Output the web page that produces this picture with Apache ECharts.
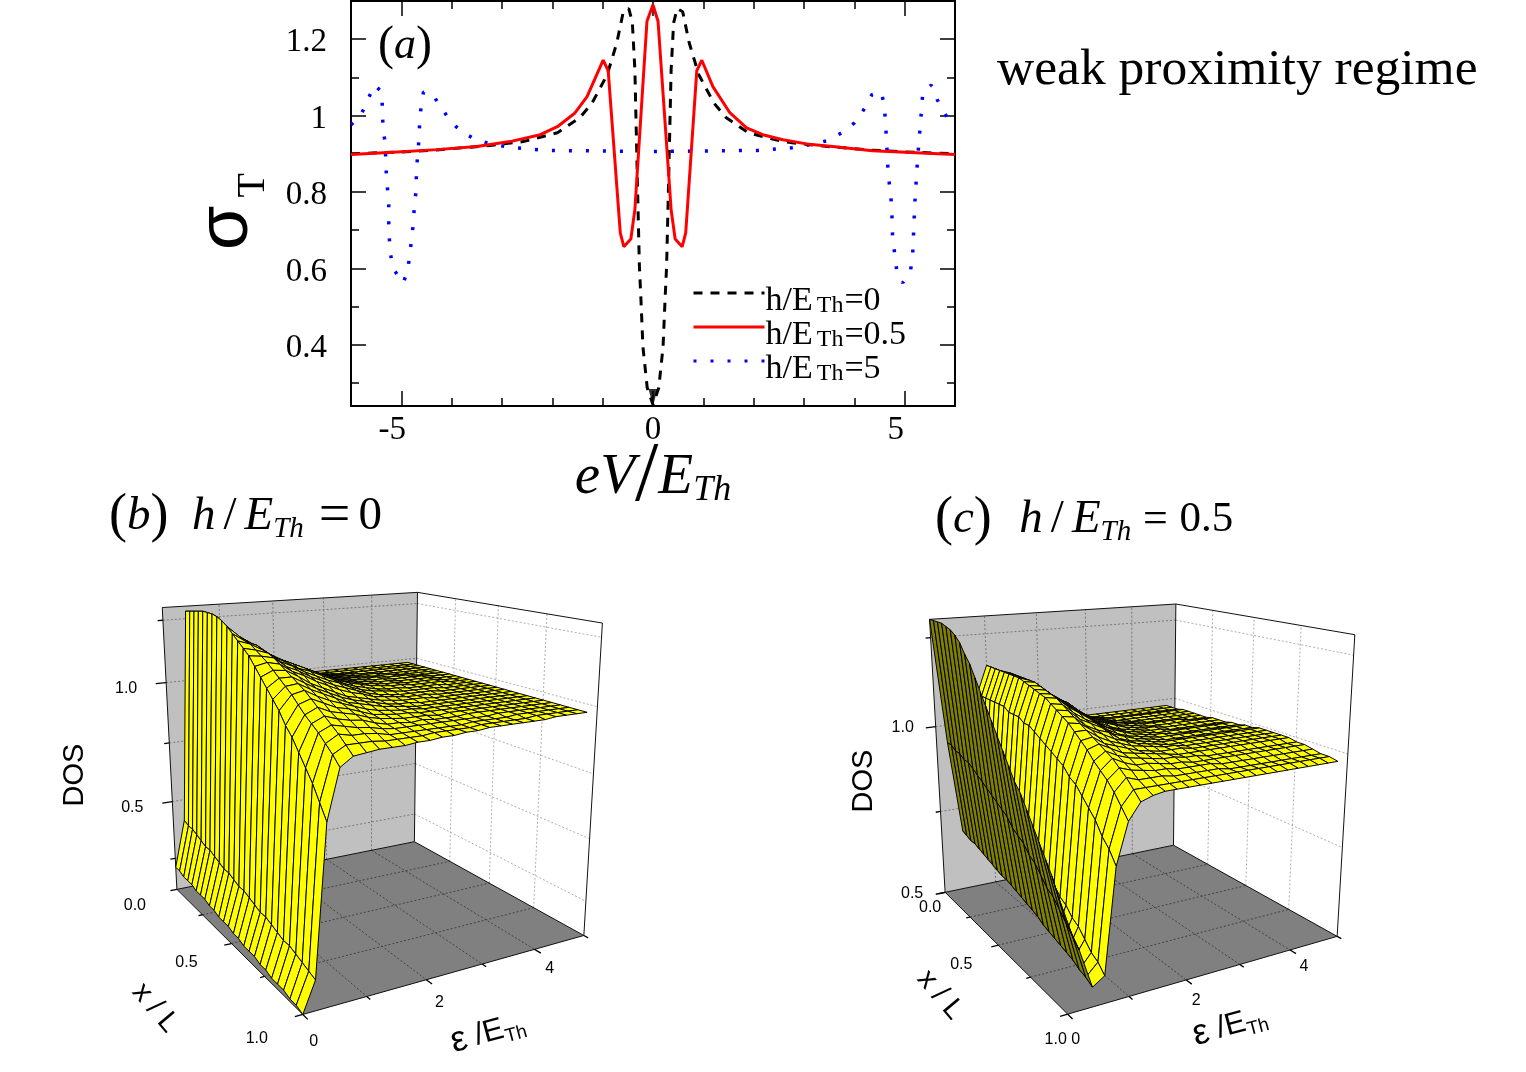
<!DOCTYPE html>
<html><head><meta charset="utf-8">
<style>html,body{margin:0;padding:0;background:#fff}#c{width:1526px;height:1072px}</style>
<script src="https://cdn.jsdelivr.net/npm/echarts@6/dist/echarts.min.js"></script>
</head><body><div id="c"></div>
<script>
// ---------- panel (a) data ----------
const blackCurve=[[-6,.9],[-5,.905],[-4.3,.91],[-3.23,.922],[-2.58,.932],[-1.9,.955],[-1.45,.995],[-1.21,1.033],[-.91,1.107],[-.72,1.19],[-.59,1.272],[-.48,1.28],[-.41,1.243],[-.36,1.12],[-.3,.77],[-.27,.605],[-.24,.52],[-.2,.395],[-.115,.288],[0,.243],[.115,.288],[.2,.395],[.24,.52],[.27,.605],[.3,.77],[.36,1.12],[.41,1.243],[.48,1.28],[.59,1.272],[.72,1.19],[.91,1.107],[1.21,1.033],[1.45,.995],[1.9,.955],[2.58,.932],[3.23,.922],[4.3,.91],[5,.905],[6,.9]];
const redCurve=[[-6,.898],[-5.08,.905],[-4.29,.911],[-3.5,.919],[-2.84,.932],[-2.24,.95],[-1.9,.971],[-1.55,1.007],[-1.31,1.05],[-.99,1.145],[-.89,1.118],[-.65,.693],[-.58,.657],[-.44,.677],[-.36,.754],[-.12,1.247],[0,1.29],[.1,1.247],[.36,.754],[.44,.677],[.58,.657],[.65,.693],[.87,1.118],[.97,1.145],[1.19,1.076],[1.53,1.007],[1.86,.968],[2.18,.95],[2.58,.937],[3.05,.926],[3.57,.919],[4.36,.908],[5.23,.903],[6,.898]];
const blueCurve=[[-6,.976],[-5.8,1.002],[-5.67,1.04],[-5.54,1.08],[-5.38,1.062],[-5.38,1.02],[-5.36,.96],[-5.33,.937],[-5.31,.89],[-5.3,.853],[-5.27,.8],[-5.25,.767],[-5.25,.72],[-5.24,.683],[-5.22,.64],[-5.15,.597],[-4.96,.562],[-4.87,.597],[-4.83,.64],[-4.79,.683],[-4.76,.72],[-4.74,.767],[-4.71,.8],[-4.7,.853],[-4.68,.89],[-4.65,.937],[-4.64,.97],[-4.61,1.02],[-4.56,1.062],[-4.38,1.055],[-4.19,1.018],[-4,.981],[-3.77,.955],[-3.47,.934],[-3.13,.924],[-2.78,.916],[-2.1,.909],[0,.906],[2.08,.909],[2.76,.916],[3.11,.924],[3.45,.934],[3.75,.955],[4,.981],[4.2,1.018],[4.35,1.055],[4.54,1.062],[4.6,1.02],[4.64,.937],[4.67,.853],[4.74,.767],[4.76,.683],[4.8,.64],[4.84,.597],[4.96,.562],[5.12,.597],[5.16,.64],[5.2,.767],[5.26,.893],[5.34,1.023],[5.36,1.062],[5.53,1.08],[5.65,1.041],[5.81,1.002],[5.95,.976],[6,.97]];
const xMajor=[-5,0,5], xMinor=[-4,-3,-2,-1,1,2,3,4];
const yMajor=[.4,.6,.8,1,1.2], yMinor=[.3,.5,.7,.9,1.1];
const seriesNames=['h/E_Th=0','h/E_Th=0.5','h/E_Th=5'];
// ---------- DOS tables: one row per energy 0,0.2,...,4.8; one value per x/L 0,0.04,...,1 ----------
const dosB=[
[.21,.21,.20,.20,.20,.19,.19,.19,.18,.18,.17,.17,.17,.16,.16,.15,.15,.15,.14,.14,.13,.13,.13,.12,.12,.11],
[.41,.40,.40,.39,.38,.37,.37,.36,.35,.34,.34,.33,.32,.32,.31,.30,.29,.29,.28,.27,.26,.26,.25,.24,.23,.22],
[1.28,1.285,1.29,1.295,1.30,1.30,1.30,1.295,1.285,1.27,1.25,1.23,1.21,1.19,1.16,1.13,1.10,1.07,1.04,1.00,.97,.93,.89,.85,.80,.75],
[1.20,1.205,1.21,1.215,1.22,1.225,1.23,1.23,1.23,1.23,1.22,1.215,1.20,1.185,1.17,1.15,1.13,1.11,1.09,1.065,1.04,1.02,1.00,.975,.95,.92],
[1.18,1.185,1.19,1.195,1.20,1.20,1.205,1.205,1.205,1.20,1.20,1.19,1.185,1.175,1.16,1.145,1.13,1.115,1.10,1.08,1.06,1.04,1.02,1.00,.975,.95],
[1.15,1.155,1.16,1.165,1.17,1.17,1.17,1.17,1.17,1.17,1.165,1.16,1.15,1.14,1.13,1.12,1.105,1.09,1.075,1.06,1.04,1.025,1.01,.99,.975,.955],
[1.125,1.13,1.13,1.135,1.14,1.14,1.14,1.14,1.14,1.14,1.14,1.135,1.13,1.12,1.11,1.09,1.08,1.07,1.055,1.04,1.03,1.015,1.00,.99,.975,.96],
[1.10,1.105,1.11,1.115,1.12,1.12,1.12,1.12,1.12,1.12,1.12,1.11,1.105,1.095,1.085,1.07,1.06,1.05,1.04,1.03,1.02,1.01,.995,.985,.97,.96],
[1.08,1.085,1.09,1.09,1.095,1.10,1.10,1.10,1.10,1.10,1.10,1.095,1.085,1.075,1.065,1.05,1.04,1.03,1.025,1.015,1.005,.995,.985,.975,.97,.96],
[1.05,1.055,1.06,1.07,1.075,1.08,1.08,1.08,1.08,1.08,1.08,1.075,1.065,1.055,1.045,1.03,1.025,1.02,1.01,1.00,.995,.985,.98,.975,.97,.965],
[1.02,1.03,1.04,1.045,1.05,1.055,1.06,1.06,1.06,1.06,1.06,1.055,1.05,1.04,1.03,1.02,1.015,1.01,1.00,.995,.99,.985,.98,.975,.97,.965],
[1.00,1.01,1.02,1.025,1.03,1.035,1.04,1.04,1.04,1.04,1.04,1.035,1.03,1.025,1.02,1.01,1.005,1.00,.995,.99,.985,.98,.98,.975,.975,.97],
[.99,.995,1.00,1.01,1.015,1.02,1.025,1.025,1.025,1.025,1.025,1.02,1.015,1.01,1.005,1.00,.995,.995,.99,.99,.985,.985,.98,.975,.975,.97],
[.985,.99,.995,1.00,1.005,1.01,1.015,1.015,1.015,1.015,1.015,1.01,1.005,1.00,1.00,.995,.99,.99,.99,.985,.985,.98,.98,.975,.975,.975],
[.985,.985,.99,.995,1.00,1.00,1.005,1.005,1.005,1.005,1.005,1.00,1.00,.995,.995,.99,.99,.985,.985,.985,.98,.98,.98,.975,.975,.975],
[.985,.985,.985,.99,.995,.995,1.00,1.00,1.00,1.00,1.00,.995,.995,.99,.99,.99,.985,.985,.985,.985,.985,.98,.98,.98,.98,.98],
[.985,.985,.985,.99,.99,.995,.995,.995,.995,.995,.995,.995,.99,.99,.99,.99,.985,.985,.985,.985,.985,.985,.98,.98,.98,.98],
[.985,.985,.985,.985,.99,.99,.995,.995,.995,.995,.995,.99,.99,.99,.99,.985,.985,.985,.985,.985,.985,.985,.98,.98,.98,.98],
[.985,.985,.985,.985,.99,.99,.99,.99,.99,.99,.99,.99,.99,.99,.985,.985,.985,.985,.985,.985,.985,.985,.985,.98,.98,.98],
[.985,.985,.985,.985,.985,.99,.99,.99,.99,.99,.99,.99,.99,.985,.985,.985,.985,.985,.985,.985,.985,.985,.985,.985,.98,.98],
[.985,.985,.985,.985,.985,.985,.99,.99,.99,.99,.99,.99,.985,.985,.985,.985,.985,.985,.985,.985,.985,.985,.985,.985,.985,.98],
[.985,.985,.985,.985,.985,.985,.985,.99,.99,.99,.99,.985,.985,.985,.985,.985,.985,.985,.985,.985,.985,.985,.985,.985,.985,.985],
[.985,.985,.985,.985,.985,.985,.985,.985,.985,.985,.985,.985,.985,.985,.985,.985,.985,.985,.985,.985,.985,.985,.985,.985,.985,.985],
[.985,.985,.985,.985,.985,.985,.985,.985,.985,.985,.985,.985,.985,.985,.985,.985,.985,.985,.985,.985,.985,.985,.985,.985,.985,.985],
[.985,.985,.985,.985,.985,.985,.985,.985,.985,.985,.985,.985,.985,.985,.985,.985,.985,.985,.985,.985,.985,.985,.985,.985,.985,.985]];
const dosC=[
[1.30,1.30,1.30,1.30,1.295,1.29,1.28,1.265,1.24,1.22,1.19,1.16,1.13,1.10,1.07,1.04,1.01,.98,.96,.93,.90,.87,.84,.81,.77,.73],
[.95,.95,.94,.94,.93,.93,.92,.91,.90,.89,.88,.87,.86,.85,.83,.82,.81,.79,.78,.76,.74,.73,.71,.69,.67,.65],
[.68,.675,.67,.67,.665,.66,.655,.65,.645,.64,.64,.635,.63,.625,.62,.615,.61,.60,.595,.59,.585,.58,.575,.565,.56,.55],
[.80,.80,.80,.79,.79,.79,.78,.78,.77,.77,.76,.75,.75,.74,.73,.72,.71,.70,.68,.67,.65,.64,.62,.60,.59,.57],
[1.08,1.08,1.08,1.08,1.08,1.08,1.08,1.07,1.07,1.07,1.06,1.06,1.05,1.04,1.03,1.02,1.01,1.00,.98,.97,.95,.93,.91,.88,.86,.83],
[1.16,1.16,1.16,1.16,1.16,1.16,1.16,1.16,1.155,1.15,1.145,1.14,1.135,1.125,1.115,1.105,1.095,1.08,1.065,1.05,1.03,1.015,1.00,.98,.955,.93],
[1.145,1.145,1.145,1.15,1.15,1.15,1.15,1.15,1.15,1.145,1.14,1.135,1.13,1.12,1.11,1.10,1.09,1.08,1.07,1.06,1.05,1.04,1.025,1.01,.99,.97],
[1.12,1.12,1.125,1.125,1.125,1.125,1.125,1.125,1.125,1.12,1.115,1.11,1.105,1.095,1.085,1.075,1.07,1.06,1.05,1.045,1.035,1.025,1.015,1.00,.99,.98],
[1.09,1.095,1.10,1.10,1.105,1.105,1.105,1.105,1.10,1.10,1.095,1.09,1.085,1.075,1.07,1.06,1.055,1.045,1.04,1.03,1.025,1.015,1.01,1.00,.99,.985],
[1.06,1.065,1.07,1.075,1.08,1.085,1.085,1.085,1.085,1.08,1.075,1.07,1.065,1.06,1.055,1.05,1.04,1.035,1.03,1.025,1.02,1.015,1.005,1.00,.99,.985],
[1.03,1.04,1.045,1.05,1.055,1.06,1.06,1.06,1.06,1.055,1.055,1.05,1.045,1.04,1.035,1.03,1.03,1.025,1.02,1.02,1.015,1.01,1.005,.995,.99,.985],
[1.00,1.01,1.02,1.03,1.035,1.04,1.04,1.04,1.04,1.035,1.035,1.03,1.03,1.025,1.025,1.02,1.02,1.02,1.015,1.015,1.01,1.005,1.00,.995,.99,.985],
[.99,1.00,1.005,1.015,1.02,1.025,1.025,1.025,1.025,1.025,1.02,1.02,1.02,1.015,1.015,1.015,1.015,1.015,1.01,1.01,1.01,1.005,1.00,.995,.99,.985],
[.985,.99,.995,1.00,1.005,1.01,1.015,1.015,1.015,1.015,1.01,1.01,1.01,1.01,1.01,1.01,1.01,1.01,1.01,1.005,1.005,1.00,1.00,.995,.99,.985],
[.98,.985,.99,.995,1.00,1.00,1.005,1.005,1.005,1.005,1.005,1.005,1.005,1.005,1.005,1.005,1.005,1.01,1.01,1.005,1.005,1.00,1.00,.995,.99,.985],
[.98,.98,.985,.99,.99,.995,.995,1.00,1.00,1.00,1.00,1.00,1.00,1.00,1.00,1.005,1.005,1.005,1.005,1.005,1.00,1.00,.995,.99,.99,.985],
[.98,.98,.98,.985,.985,.99,.99,.995,.995,.995,.995,.995,1.00,1.00,1.00,1.005,1.005,1.005,1.005,1.005,1.00,1.00,.995,.99,.99,.985],
[.98,.98,.98,.985,.985,.985,.99,.99,.99,.995,.995,.995,.995,1.00,1.00,1.005,1.005,1.005,1.005,1.005,1.00,1.00,.995,.99,.99,.985],
[.98,.98,.98,.985,.985,.985,.985,.99,.99,.99,.99,.995,.995,1.00,1.00,1.005,1.005,1.005,1.005,1.005,1.00,1.00,.995,.99,.99,.985],
[.98,.98,.98,.985,.985,.985,.985,.99,.99,.99,.99,.995,.995,1.00,1.00,1.005,1.005,1.005,1.005,1.005,1.00,1.00,.995,.99,.99,.985],
[.98,.98,.98,.985,.985,.985,.985,.99,.99,.99,.99,.995,.995,1.00,1.00,1.005,1.005,1.005,1.005,1.005,1.00,1.00,.995,.99,.99,.985],
[.98,.98,.98,.985,.985,.985,.985,.99,.99,.99,.99,.995,.995,1.00,1.00,1.005,1.005,1.005,1.005,1.005,1.00,1.00,.995,.99,.99,.985],
[.98,.98,.98,.985,.985,.985,.985,.985,.99,.99,.99,.995,.995,1.00,1.00,1.005,1.005,1.005,1.005,1.005,1.00,1.00,.995,.99,.99,.985],
[.98,.98,.98,.985,.985,.985,.985,.985,.99,.99,.99,.995,.995,1.00,1.00,1.005,1.005,1.005,1.005,1.005,1.00,1.00,.995,.99,.99,.985],
[.98,.98,.98,.985,.985,.985,.985,.985,.99,.99,.99,.995,.995,1.00,1.00,1.005,1.005,1.005,1.005,1.005,1.00,1.00,.995,.99,.99,.985]];
const energyStep=0.2, xStep=0.04;
const xTicks3d=[0,.25,.5,.75,1], xLabels3d=[0,.5,1], eTicks3d=[0,1,2,3,4,5], eLabels3d=[0,2,4], eGrid3d=[1,2,3,4], xGrid3d=[.25,.5,.75];
const panels=[
 {dos:dosB,zMin:.11,zMax:1.3,zTicks:[.25,.5,.75,1,1.25],zLabels:[.5,1],
  cal:[[0,0,0,177,889],[1,0,0,302,1014],[1,5,0,582,935],[0,5,0,414,842],[0,0,1,162,608],[0,5,1,418,592],[1,5,1,602,623],[1,2,0,427,980],[1,4,0,537,950]],
  zOff:[-40,6],xOff:[[-42,16],[-45,19],[-46,24]],eOff:[[11,27],[13,23],[15,19]]},
 {dos:dosC,zMin:.5,zMax:1.3,zTicks:[.5,.75,1,1.25],zLabels:[.5,1],
  cal:[[0,0,0,945,892],[1,0,0,1067,1012],[1,5,0,1335,935],[0,5,0,1173,845],[0,0,1,929,620],[0,5,1,1177,604],[1,5,1,1354,634],[1,2,0,1188,982],[1,4,0,1292,952]],
  zOff:[-33,1],xOff:[[-15,15],[-37,19],[-12,25]],eOff:[[8,25],[10,21],[14,17]]}
];
// projective calibration of each 3D box, fitted by least squares
function solve(A,b){const n=b.length;A=A.map((r,i)=>r.concat(b[i]));
 for(let i=0;i<n;i++){let m=i;for(let k=i+1;k<n;k++)if(Math.abs(A[k][i])>Math.abs(A[m][i]))m=k;[A[i],A[m]]=[A[m],A[i]];
  for(let k=0;k<n;k++)if(k!==i){const f=A[k][i]/A[i][i];for(let j=i;j<=n;j++)A[k][j]-=f*A[i][j];}}
 return A.map((r,i)=>r[n]/r[i]);}
panels.forEach(p=>{const R=[],S=[];
 p.cal.forEach(c=>{const u=c[0],v=c[1]/5,w=c[2],X=c[3],Y=c[4];
  R.push([u,v,w,1,0,0,0,0,-X*u,-X*v,-X*w]);S.push(X);
  R.push([0,0,0,0,u,v,w,1,-Y*u,-Y*v,-Y*w]);S.push(Y);});
 const N=Array.from({length:11},(_,i)=>Array.from({length:11},(_,j)=>R.reduce((s,r)=>s+r[i]*r[j],0)));
 const B=Array.from({length:11},(_,i)=>R.reduce((s,r,k)=>s+r[i]*S[k],0));
 const h=solve(N,B);
 p.project=(x,e,z)=>{const u=x,v=e/5,w=(z-p.zMin)/(p.zMax-p.zMin),d=h[8]*u+h[9]*v+h[10]*w+1;
  return [(h[0]*u+h[1]*v+h[2]*w+h[3])/d,(h[4]*u+h[5]*v+h[6]*w+h[7])/d];};
});
// build element lists
const walls=[],gridLines=[],edges=[],ticks=[],labels=[],cells=[];
panels.forEach((p,k)=>{
 const f=p.zMin,t=p.zMax;
 walls.push([k,0],[k,1],[k,2]);
 eGrid3d.forEach(e=>{gridLines.push([k,0,e,f,0,e,t,'#666']);gridLines.push([k,0,e,f,1,e,f,'#333']);});
 xGrid3d.forEach(x=>{gridLines.push([k,x,5,f,x,5,t,'#999']);gridLines.push([k,x,0,f,x,5,f,'#333']);});
 p.zTicks.forEach(z=>{if(z>f){gridLines.push([k,0,0,z,0,5,z,'#666']);gridLines.push([k,0,5,z,1,5,z,'#999']);}});
 [[0,0,t,0,5,t],[0,5,t,1,5,t],[1,5,t,1,5,f],[0,5,t,0,5,f],[0,0,t,0,0,f],[0,0,f,1,0,f],[1,0,f,1,5,f],[1,5,f,0,5,f],[0,5,f,0,0,f]].forEach(s=>edges.push([k].concat(s)));
 eTicks3d.forEach(e=>{const L=e%2===0?.03:.02;ticks.push([k,1,e,f,1+L,e,f]);});
 xTicks3d.forEach(x=>{const L=x*2===Math.round(x*2)?-.12:-.07;ticks.push([k,x,0,f,x,L,f]);});
 p.zTicks.forEach(z=>{const L=p.zLabels.includes(z)?-.18:-.09;ticks.push([k,0,0,z,0,L,z]);});
 p.zLabels.forEach(z=>labels.push([k,0,0,z,z.toFixed(1),p.zOff[0],p.zOff[1]]));
 xLabels3d.forEach((x,i)=>labels.push([k,x,0,f,x.toFixed(1),p.xOff[i][0],p.xOff[i][1]]));
 eLabels3d.forEach((e,i)=>labels.push([k,1,e,f,String(e),p.eOff[i][0],p.eOff[i][1]]));
 for(let ie=p.dos.length-2;ie>=0;ie--)for(let ix=0;ix<p.dos[0].length-1;ix++)cells.push([k,ie,ix]);
});
const sans='"Liberation Sans"',serif='"Liberation Serif"';
const segRender=(w,dash,getColor)=>(params,api)=>{const p=panels[api.value(0)];
 const a=api.coord(p.project(api.value(1),api.value(2),api.value(3))),b=api.coord(p.project(api.value(4),api.value(5),api.value(6)));
 return {type:'line',shape:{x1:a[0],y1:a[1],x2:b[0],y2:b[1]},style:{stroke:getColor(params.dataIndex),lineWidth:w,lineDash:dash,fill:null}};};
const cust=(name,data,renderItem)=>({type:'custom',name,coordinateSystem:'cartesian2d',xAxisIndex:4,yAxisIndex:4,data,renderItem,silent:true,clip:false,animation:false,encode:{x:[],y:[]}});
const line0={onZero:false,lineStyle:{color:'#000',width:2}};
const noLine={show:false,onZero:false};
const tickM=(vals)=>({inside:true,length:15,customValues:vals,lineStyle:{color:'#000',width:1.5}});
const tickS=(vals)=>({inside:true,length:8,customValues:vals,lineStyle:{color:'#000',width:1.5}});
const ser=(o)=>Object.assign({fontFamily:serif,color:'#000'},o);
const hdr=(o)=>Object.assign({fontFamily:serif,fill:'#000',color:'#000',lineHeight:54},o);
const hdrRich={b:hdr({fontStyle:'italic',fontSize:47}),p:hdr({fontSize:54}),n:hdr({fontSize:47}),m:hdr({fontSize:32}),q:hdr({fontSize:16}),x:hdr({fontSize:60}),e:hdr({fontSize:56}),e2:hdr({fontSize:44}),v:hdr({fontSize:43}),s:hdr({fontStyle:'italic',fontSize:29,verticalAlign:'bottom',lineHeight:36})};
const option={animation:false,backgroundColor:'#fff',
 grid:[{left:351,top:1,width:604,height:405},{left:0,top:0,width:1526,height:1072}],
 legend:{show:true,left:692,top:268,padding:0,orient:'vertical',itemWidth:71,itemHeight:20,itemGap:-16,data:seriesNames,
  itemStyle:{color:'transparent',opacity:0,borderWidth:0},lineStyle:{width:3},
  textStyle:{fontFamily:serif,fontSize:34,color:'#000',lineHeight:34,padding:[16,0,0,-4]},
  formatter:n=>{const m=n.split('_');const r=m[1].split('=');return m[0]+'{s|'+r[0]+'}{n|='+r[1]+'}';},
 },
 xAxis:[
  {gridIndex:0,type:'value',min:-6,max:6,position:'bottom',splitLine:{show:false},axisLine:line0,axisTick:tickM(xMajor),
   axisLabel:{customValues:xMajor,margin:8,fontFamily:serif,fontSize:33,color:'#000',formatter:v=>v===0?'{c|0}':'{l|'+v+'}',rich:{c:ser({fontSize:33}),l:ser({fontSize:33,padding:[0,18,0,0]})}},
   name:'{i|eV}{big|/}{i|E}{s|Th}',nameLocation:'middle',nameMoveOverlap:false,nameGap:41,nameTextStyle:{rich:{i:ser({fontStyle:'italic',fontSize:57,lineHeight:62}),big:ser({fontSize:84,lineHeight:62}),s:ser({fontStyle:'italic',fontSize:36,verticalAlign:'bottom',lineHeight:40})}}},
  {gridIndex:0,type:'value',min:-6,max:6,position:'bottom',splitLine:{show:false},axisLine:noLine,axisLabel:{show:false},axisTick:tickS(xMinor)},
  {gridIndex:0,type:'value',min:-6,max:6,position:'top',splitLine:{show:false},axisLine:line0,axisLabel:{show:false},axisTick:tickM(xMajor)},
  {gridIndex:0,type:'value',min:-6,max:6,position:'top',splitLine:{show:false},axisLine:noLine,axisLabel:{show:false},axisTick:tickS(xMinor)},
  {gridIndex:1,type:'value',min:0,max:1526,show:false}
 ],
 yAxis:[
  {gridIndex:0,type:'value',min:.24,max:1.3,position:'left',splitLine:{show:false},axisLine:line0,axisTick:tickM(yMajor),
   axisLabel:{customValues:yMajor,margin:24,formatter:v=>'{a|'+v+'}',rich:{a:ser({fontSize:33,padding:[7,0,0,0]})}},
   name:'{g|σ}{t|T}',nameLocation:'middle',nameRotate:90,nameGap:78,nameTextStyle:{rich:{g:{fontFamily:sans,fontSize:72,color:'#000',lineHeight:92},t:ser({fontSize:40,padding:[0,16,0,8],verticalAlign:'bottom',lineHeight:50})}}},
  {gridIndex:0,type:'value',min:.24,max:1.3,position:'left',splitLine:{show:false},axisLine:noLine,axisLabel:{show:false},axisTick:tickS(yMinor)},
  {gridIndex:0,type:'value',min:.24,max:1.3,position:'right',splitLine:{show:false},axisLine:line0,axisLabel:{show:false},axisTick:tickM(yMajor)},
  {gridIndex:0,type:'value',min:.24,max:1.3,position:'right',splitLine:{show:false},axisLine:noLine,axisLabel:{show:false},axisTick:tickS(yMinor)},
  {gridIndex:1,type:'value',min:0,max:1072,inverse:true,show:false}
 ],
 series:[
  {type:'line',name:seriesNames[2],data:blueCurve,symbol:'none',silent:true,lineStyle:{color:'#0000ff',width:3.5,type:[3,14]},itemStyle:{color:'#0000ff'},z:2},
  {type:'line',name:seriesNames[0],data:blackCurve,symbol:'none',silent:true,lineStyle:{color:'#000',width:3,type:[9,8]},itemStyle:{color:'#000'},z:3},
  {type:'scatter',data:[[0,.262]],symbol:'triangle',symbolRotate:180,symbolSize:[9,17],itemStyle:{color:'#000'},silent:true,z:3},
  {type:'line',name:seriesNames[1],data:redCurve,symbol:'none',silent:true,lineStyle:{color:'#ff0000',width:3},itemStyle:{color:'#ff0000'},z:4},
  cust('walls',walls,(params,api)=>{const k=api.value(0),w=api.value(1),p=panels[k],f=p.zMin,t=p.zMax;
    const q=w===0?[[0,0,f],[0,0,t],[0,5,t],[0,5,f]]:w===1?[[0,5,f],[0,5,t],[1,5,t],[1,5,f]]:[[0,0,f],[1,0,f],[1,5,f],[0,5,f]];
    return {type:'polygon',shape:{points:q.map(c=>api.coord(p.project(c[0],c[1],c[2])))},style:{fill:['#c0c0c0','#ffffff','#808080'][w]}};}),
  cust('grid',gridLines,segRender(.8,[2,2],i=>gridLines[i][7])),
  cust('edges',edges,segRender(1,null,()=>'#111')),
  cust('ticks',ticks,segRender(1.3,null,()=>'#000')),
  cust('surface',cells,(params,api)=>{const k=api.value(0),ie=api.value(1),ix=api.value(2),p=panels[k],D=p.dos;
    const P=(a,b)=>api.coord(p.project(b*xStep,a*energyStep,Math.max(p.zMin,D[a][b])));
    const q=[P(ie,ix),P(ie,ix+1),P(ie+1,ix+1),P(ie+1,ix)];
    let A=0;for(let i=0;i<4;i++){const a=q[i],b=q[(i+1)%4];A+=a[0]*b[1]-b[0]*a[1];}
    return {type:'polygon',shape:{points:q},style:{fill:A<0?'#ffff00':'#808000',stroke:'#000',lineWidth:1}};}),
  cust('labels',labels,(params,api)=>{const L=labels[params.dataIndex],p=panels[L[0]],c=api.coord(p.project(L[1],L[2],L[3]));
    return {type:'text',style:{x:c[0]+L[5],y:c[1]+L[6],text:L[4],fontFamily:sans,fontSize:16,fill:'#000',align:'center',verticalAlign:'middle'}};})
 ],
 graphic:[
  {type:'text',left:997,top:44,style:{text:'weak proximity regime',font:'51.5px "Liberation Serif"',fill:'#000'}},
  {type:'text',left:378,top:22,style:{text:'({i|a})',font:'48px "Liberation Serif"',fill:'#000',rich:{i:{fontFamily:serif,fontStyle:'italic',fontSize:44,fill:'#000'}}}},
  {type:'text',left:109,top:487,style:{text:'{p|(}{b|b}{p|)}{n|  }{b|h}{m| }{n|/}{m| }{b|E}{s|Th}{x| }{e|=}{m| }{n|0}',font:'47px "Liberation Serif"',fill:'#000',rich:hdrRich}},
  {type:'text',left:935,top:493,style:{text:'{p|(}{b|c}{p|)}{n|  }{q| }{b|h}{m| }{n|/}{m| }{b|E}{s|Th}{n| }{e2|=}{n| }{v|0.5}',font:'47px "Liberation Serif"',fill:'#000',rich:hdrRich}},
  {type:'text',x:75,y:775,rotation:Math.PI/2,style:{text:'DOS',font:'29px "Liberation Sans"',fill:'#000',align:'center',verticalAlign:'middle'}},
  {type:'text',x:864,y:781,rotation:Math.PI/2,style:{text:'DOS',font:'29px "Liberation Sans"',fill:'#000',align:'center',verticalAlign:'middle'}},
  {type:'text',x:155,y:1008,rotation:-.87,style:{text:'x / L',font:'29px "Liberation Sans"',fill:'#000',align:'center',verticalAlign:'middle'}},
  {type:'text',x:940,y:995,rotation:-.87,style:{text:'x / L',font:'29px "Liberation Sans"',fill:'#000',align:'center',verticalAlign:'middle'}},
  {type:'text',x:488,y:1033,rotation:.26,style:{text:'{g|ε} /E{s|Th}',font:'31px "Liberation Sans"',fill:'#000',align:'center',verticalAlign:'middle',rich:{g:{fontFamily:sans,fontSize:36,fill:'#000'},s:{fontFamily:sans,fontSize:19,fill:'#000',verticalAlign:'bottom',lineHeight:24}}}},
  {type:'text',x:1230,y:1026,rotation:.26,style:{text:'{g|ε} /E{s|Th}',font:'31px "Liberation Sans"',fill:'#000',align:'center',verticalAlign:'middle',rich:{g:{fontFamily:sans,fontSize:36,fill:'#000'},s:{fontFamily:sans,fontSize:19,fill:'#000',verticalAlign:'bottom',lineHeight:24}}}}
 ]
};
option.legend.textStyle.rich={s:ser({fontSize:24,verticalAlign:'bottom',lineHeight:30,padding:[0,1,0,4]}),n:ser({fontSize:34,lineHeight:34})};
const chart=echarts.init(document.getElementById('c'),null,{renderer:'canvas',width:1526,height:1072});
chart.setOption(option);
</script></body></html>
